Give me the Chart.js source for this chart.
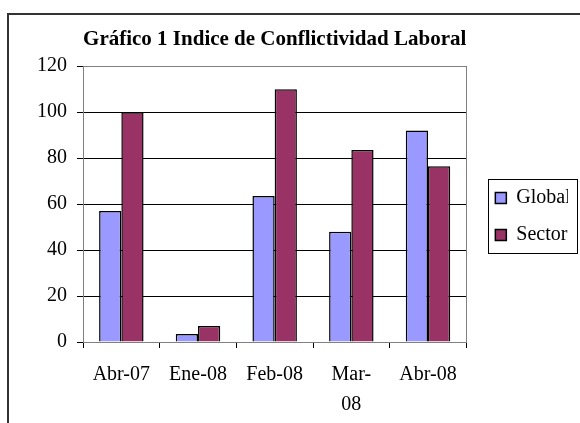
<!DOCTYPE html>
<html>
<head>
<meta charset="utf-8">
<script src="https://cdn.jsdelivr.net/npm/chart.js@4"></script>
<style>
  html, body { margin: 0; padding: 0; background: #fff; }
  #wrap { position: relative; width: 580px; height: 423px; }
</style>
</head>
<body>
<div id="wrap"><canvas id="myChart"></canvas></div>
<script>
const categories = ['Abr-07', 'Ene-08', 'Feb-08', ['Mar-', '08'], 'Abr-08'];
const globalValues = [57, 3.5, 63.5, 48, 92];
const sectorValues = [100, 7, 110, 83.5, 76.5];
const yTicks = [0, 20, 40, 60, 80, 100, 120];

const serif = "'Liberation Serif', 'Times New Roman', serif";
Chart.defaults.font.family = serif;
Chart.defaults.color = '#000';

// outer frame, plot border and legend box
const framePlugin = {
  id: 'frames',
  beforeDraw(chart) {
    const ctx = chart.ctx;
    ctx.save();
    ctx.fillStyle = '#fff';
    ctx.fillRect(0, 0, chart.width, chart.height);
    ctx.strokeStyle = '#333';
    ctx.lineWidth = 2;
    ctx.strokeRect(8, 14, chart.width + 20, chart.height + 20);
    ctx.restore();
  },
  beforeDatasetsDraw(chart) {
    const a = chart.chartArea;
    const ctx = chart.ctx;
    ctx.save();
    ctx.strokeStyle = '#808080';
    ctx.lineWidth = 1;
    ctx.strokeRect(Math.round(a.left) + 0.5, Math.round(a.top) + 0.5,
      Math.round(a.right - a.left), Math.round(a.bottom - a.top));
    ctx.restore();
  },
  afterDraw(chart) {
    const boxes = chart.legend.legendHitBoxes;
    if (!boxes || !boxes.length) return;
    const left = Math.min(...boxes.map(b => b.left)) - 7;
    const right = Math.max(...boxes.map(b => b.left + b.width)) + 7;
    const top = boxes[0].top - 9;
    const last = boxes[boxes.length - 1];
    const bottom = last.top + last.height + 8;
    const ctx = chart.ctx;
    ctx.save();
    ctx.strokeStyle = '#000';
    ctx.lineWidth = 1;
    ctx.strokeRect(Math.round(left) + 0.5, Math.round(top) + 0.5,
      Math.round(right - left), Math.round(bottom - top));
    ctx.restore();
  }
};

const chartData = {
  labels: categories,
  datasets: [
    {
      label: 'Global',
      data: globalValues,
      backgroundColor: '#9999FF',
      borderColor: '#000',
      borderWidth: 1.5
    },
    {
      label: 'Sector',
      data: sectorValues,
      backgroundColor: '#993366',
      borderColor: '#000',
      borderWidth: 1.5
    }
  ]
};

const chartConfig = {
  type: 'bar',
  data: chartData,
  plugins: [framePlugin],
  options: {
    responsive: true,
    maintainAspectRatio: false,
    animation: false,
    categoryPercentage: 0.58,
    barPercentage: 1,
    layout: {
      padding: { top: 13, bottom: 3, left: 30, right: 12 }
    },
    plugins: {
      title: {
        display: true,
        text: 'Gráfico 1 Indice de Conflictividad Laboral',
        color: '#000',
        fullSize: false,
        font: { family: serif, size: 21, weight: 'bold', lineHeight: 1.2 },
        padding: { top: 14, bottom: 14 }
      },
      legend: {
        position: 'right',
        labels: {
          color: '#000',
          font: { family: serif, size: 20 },
          boxWidth: 11,
          boxHeight: 11,
          padding: 17
        }
      },
      tooltip: { enabled: false }
    },
    scales: {
      x: {
        afterFit(scale) { scale.height = 78; },
        grid: {
          offset: true,
          drawOnChartArea: false,
          tickLength: 6,
          color: '#000'
        },
        border: { color: '#808080' },
        ticks: {
          color: '#000',
          padding: 12,
          maxRotation: 0,
          font: { family: serif, size: 20, lineHeight: 1.5 }
        }
      },
      y: {
        min: 0,
        max: 120,
        afterBuildTicks(scale) {
          scale.ticks = yTicks.map(v => ({ value: v }));
        },
        afterFit(scale) { scale.width = 53; },
        grid: {
          color: '#000',
          tickLength: 6
        },
        border: { color: '#808080' },
        ticks: {
          color: '#000',
          padding: 10,
          font: { family: serif, size: 20 }
        }
      },
      gap: {
        position: 'right',
        display: true,
        grid: { display: false },
        border: { display: false },
        ticks: { display: false },
        afterFit(scale) { scale.width = 12; }
      }
    }
  }
};

const chartCanvas = document.getElementById('myChart');
const myChart = new Chart(chartCanvas.getContext('2d'), chartConfig);
</script>
</body>
</html>
